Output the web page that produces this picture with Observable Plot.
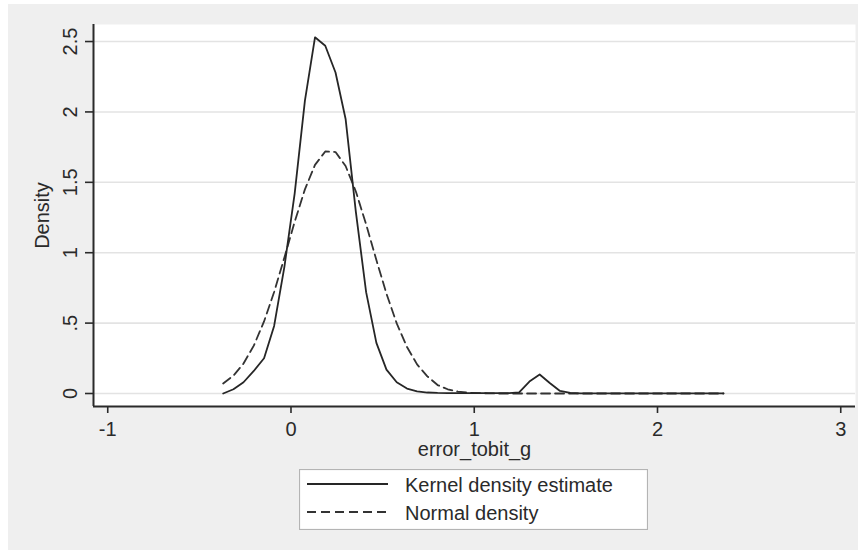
<!DOCTYPE html>
<html>
<head>
<meta charset="utf-8">
<script src="https://cdn.jsdelivr.net/npm/d3@7"></script>
<script src="https://cdn.jsdelivr.net/npm/@observablehq/plot@0.6"></script>
<style>
html, body { margin: 0; padding: 0; background: #ffffff; width: 867px; height: 554px; overflow: hidden; font-family: "Liberation Sans", Arial, Helvetica, sans-serif; }
#bg { position: absolute; left: 8px; top: 4px; width: 850px; height: 546px; background: #efefef; }
#chart { position: absolute; left: 0; top: 0; width: 867px; }
#chart svg { display: block; }
#legend { margin-left: 299px; margin-top: 7px; width: 349px; height: 61px; }
</style>
</head>
<body>
<div id="bg"></div>
<div id="chart"></div>
<script>
// ---- data ----
const gridX = [-0.370, -0.314, -0.259, -0.203, -0.147, -0.092, -0.036, 0.020, 0.076, 0.131,
  0.187, 0.243, 0.298, 0.354, 0.410, 0.466, 0.521, 0.577, 0.633, 0.688,
  0.744, 0.800, 0.855, 0.911, 0.967, 1.023, 1.078, 1.134, 1.190, 1.245,
  1.301, 1.357, 1.412, 1.468, 1.524, 1.580, 1.635, 1.691, 1.747, 1.802,
  1.858, 1.914, 1.970, 2.025, 2.081, 2.137, 2.192, 2.248, 2.304, 2.360];
const kernelDensity = [0.000, 0.030, 0.080, 0.160, 0.250, 0.480, 0.900, 1.420, 2.080, 2.530,
  2.470, 2.280, 1.950, 1.290, 0.720, 0.360, 0.170, 0.080, 0.035, 0.015,
  0.007, 0.004, 0.003, 0.003, 0.002, 0.002, 0.002, 0.002, 0.002, 0.008,
  0.085, 0.135, 0.075, 0.018, 0.004, 0.001, 0.001, 0.001, 0.001, 0.001,
  0.001, 0.001, 0.001, 0.001, 0.001, 0.001, 0.001, 0.001, 0.001, 0.001];
const normalDensity = [0.071, 0.127, 0.213, 0.340, 0.512, 0.721, 0.966, 1.219, 1.450, 1.624,
  1.719, 1.715, 1.616, 1.435, 1.201, 0.948, 0.709, 0.498, 0.330, 0.207,
  0.122, 0.060, 0.030, 0.014, 0.006, 0.003, 0.001, 0.000, 0.000, 0.000,
  0.000, 0.000, 0.000, 0.000, 0.000, 0.000, 0.000, 0.000, 0.000, 0.000,
  0.000, 0.000, 0.000, 0.000, 0.000, 0.000, 0.000, 0.000, 0.000, 0.000];
const seriesNames = ["Kernel density estimate", "Normal density"];
const xTicks = [-1, 0, 1, 2, 3];
const yTicks = [0, 0.5, 1, 1.5, 2, 2.5];
const yTickLabels = ["0", ".5", "1", "1.5", "2", "2.5"];
const xTitle = "error_tobit_g";
const yTitle = "Density";

// ---- build ----
const kernel = gridX.map((x, i) => ({x, y: kernelDensity[i]}));
const normal = gridX.map((x, i) => ({x, y: normalDensity[i]}));
const xDomain = [-1.0777, 3.0805];
const yDomain = [-0.0923, 2.621];
const ink = "#2a2a2a";

const chart = Plot.plot({
  width: 867,
  height: 462,
  marginLeft: 93,
  marginRight: 12,
  marginTop: 24,
  marginBottom: 56,
  style: {background: "transparent", fontFamily: "'Liberation Sans', Arial, Helvetica, sans-serif", fontSize: "20px", color: ink},
  x: {domain: xDomain, label: null},
  y: {domain: yDomain, label: null},
  marks: [
    Plot.frame({fill: "#ffffff", stroke: null}),
    Plot.gridY(yTicks, {stroke: "#e3e3e3", strokeOpacity: 1, strokeWidth: 1.6}),
    Plot.line(normal, {x: "x", y: "y", stroke: "#333", strokeWidth: 1.8, strokeDasharray: "9,5"}),
    Plot.line(kernel, {x: "x", y: "y", stroke: "#262626", strokeWidth: 1.8}),
    Plot.axisX({ticks: xTicks, tickSize: 7, tickPadding: 8, tickFormat: d => d < 0 ? "-" + Math.abs(d) : String(d), stroke: ink, strokeWidth: 1.6, fill: ink, fontSize: 20, label: null}),
    Plot.axisY({ticks: yTicks, tickSize: 8, tickPadding: 9, tickRotate: -90, tickFormat: d => yTickLabels[yTicks.indexOf(d)], stroke: ink, strokeWidth: 1.6, fill: ink, fontSize: 20, label: null}),
    Plot.ruleY([yDomain[0]], {stroke: ink, strokeWidth: 2}),
    Plot.ruleX([xDomain[0]], {stroke: ink, strokeWidth: 2}),
    Plot.text([xTitle], {frameAnchor: "bottom", dy: 43, lineAnchor: "middle", textAnchor: "middle", fontSize: 20, fill: ink}),
    Plot.text([yTitle], {frameAnchor: "left", dx: -51, rotate: -90, lineAnchor: "middle", textAnchor: "middle", fontSize: 20, fill: ink})
  ]
});
document.getElementById("chart").appendChild(chart);

// ---- legend (below the plot) ----
const legend = d3.select("#chart").append("div").attr("id", "legend")
  .append("svg").attr("width", 349).attr("height", 61)
  .style("font-family", "'Liberation Sans', Arial, Helvetica, sans-serif");
legend.append("rect").attr("x", 0.5).attr("y", 0.5).attr("width", 348).attr("height", 60)
  .attr("fill", "#ffffff").attr("stroke", "#b4b4b4").attr("stroke-width", 1.2);
const rows = legend.selectAll("g").data(seriesNames).join("g")
  .attr("transform", (d, i) => `translate(0, ${15 + i * 28})`);
rows.append("line").attr("x1", 8).attr("x2", 89).attr("y1", 0).attr("y2", 0)
  .attr("stroke", (d, i) => i === 0 ? "#262626" : "#333").attr("stroke-width", 1.8)
  .attr("stroke-dasharray", (d, i) => i === 0 ? null : "9,5");
rows.append("text").attr("x", 106).attr("y", 0).attr("dy", "0.38em")
  .attr("font-size", 20).attr("fill", ink).text(d => d);
</script>
</body>
</html>
